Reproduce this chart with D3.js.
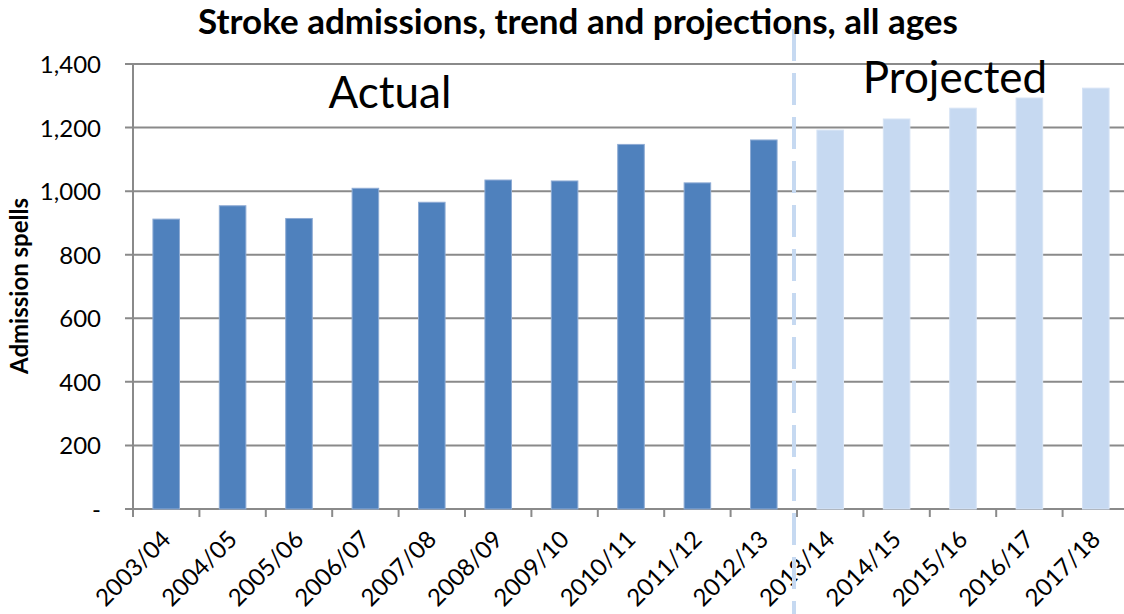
<!DOCTYPE html>
<html>
<head>
<meta charset="utf-8">
<script src="https://cdn.jsdelivr.net/npm/d3@7"></script>
<style>
  body { margin: 0; background: #fff; }
  svg { display: block; font-family: Lato, "Open Sans", sans-serif; }
</style>
</head>
<body>
<svg id="chart" width="1124" height="614"></svg>
<script>
// years shown on the x axis
const categories = ['2003/04', '2004/05', '2005/06', '2006/07', '2007/08', '2008/09', '2009/10',
                    '2010/11', '2011/12', '2012/13', '2013/14', '2014/15', '2015/16', '2016/17', '2017/18']
// admission spells
const actualValues = [912, 954, 914, 1009, 965, 1035, 1032, 1147, 1026, 1161]
const projectedValues = [1192, 1227, 1261, 1293, 1324]
const yTicks = [0, 200, 400, 600, 800, 1000, 1200, 1400]

const titleText = 'Stroke admissions, trend and projections, all ages'
const yTitle = 'Admission spells'

let svg = d3.select('#chart')
let width = 1124, height = 614
let margin = {top: 64, left: 133, bottom: 105}
let plotBottom = height - margin.bottom   // 509

let bars = categories.map(function(c, i) {
    return i < actualValues.length
        ? {cat: c, value: actualValues[i], projected: false}
        : {cat: c, value: projectedValues[i - actualValues.length], projected: true}
})

let x = d3.scaleBand()
    .domain(categories)
    .range([margin.left, margin.left + 66.4 * categories.length])
    .paddingInner(0.6)
    .paddingOuter(0.3)

let y = d3.scaleLinear()
    .domain([0, 1400])
    .range([plotBottom, margin.top])

// gridlines
svg.append('g').selectAll('line')
    .data(yTicks)
    .join('line')
    .attr('x1', margin.left - 8)
    .attr('x2', width)
    .attr('y1', d => y(d))
    .attr('y2', d => y(d))
    .attr('stroke', '#8a8a8a')
    .attr('stroke-width', 2)

// y axis labels
svg.append('g').selectAll('text')
    .data(yTicks)
    .join('text')
    .attr('x', margin.left - 32)
    .attr('y', d => y(d) + 9)
    .attr('text-anchor', 'end')
    .attr('font-size', '24px')
    .attr('fill', '#000')
    .text(d => d === 0 ? '-' : d3.format(',')(d))

// bars
svg.append('g').selectAll('rect')
    .data(bars)
    .join('rect')
    .attr('x', d => x(d.cat))
    .attr('y', d => y(d.value))
    .attr('width', x.bandwidth())
    .attr('height', d => plotBottom - y(d.value))
    .attr('fill', d => d.projected ? '#c6d9f1' : '#4f81bd')
    .attr('stroke', d => d.projected ? '#d6e3f5' : '#8eabd4')
    .attr('stroke-width', 1)

// y axis line
svg.append('line')
    .attr('x1', margin.left).attr('x2', margin.left)
    .attr('y1', margin.top).attr('y2', plotBottom + 8)
    .attr('stroke', '#8a8a8a')
    .attr('stroke-width', 2)

// x axis ticks at band boundaries
let boundaries = categories.map(c => x(c) - x.step() * x.paddingOuter())
svg.append('g').selectAll('line')
    .data(boundaries)
    .join('line')
    .attr('x1', d => d).attr('x2', d => d)
    .attr('y1', plotBottom).attr('y2', plotBottom + 8)
    .attr('stroke', '#8a8a8a')
    .attr('stroke-width', 2)

// x labels, rotated
svg.append('g').selectAll('text')
    .data(categories)
    .join('text')
    .attr('transform', d => 'translate(' + (x(d) + x.bandwidth() / 2 + 6) + ',' + (plotBottom + 32) + ') rotate(-45)')
    .attr('text-anchor', 'end')
    .attr('font-size', '24px')
    .attr('fill', '#000')
    .text(d => d)

// dashed divider between actual and projected
let splitX = x(categories[actualValues.length]) - x.step() * x.paddingOuter() - 3
svg.append('line')
    .attr('x1', splitX).attr('x2', splitX)
    .attr('y1', 29).attr('y2', height)
    .attr('stroke', '#c6d9f1')
    .attr('stroke-width', 4)
    .attr('stroke-dasharray', '32,12')

// title
svg.append('text')
    .attr('x', 578)
    .attr('y', 34)
    .attr('text-anchor', 'middle')
    .attr('font-size', '35px')
    .attr('font-weight', 'bold')
    .text(titleText)

// y axis title
svg.append('text')
    .attr('transform', 'translate(28,286) rotate(-90)')
    .attr('text-anchor', 'middle')
    .attr('font-size', '24px')
    .attr('font-weight', 'bold')
    .text(yTitle)

// region labels
svg.append('text')
    .attr('x', 390).attr('y', 108)
    .attr('text-anchor', 'middle')
    .attr('font-size', '44px')
    .text('Actual')

svg.append('text')
    .attr('x', 955).attr('y', 93)
    .attr('text-anchor', 'middle')
    .attr('font-size', '44px')
    .text('Projected')
</script>
</body>
</html>
